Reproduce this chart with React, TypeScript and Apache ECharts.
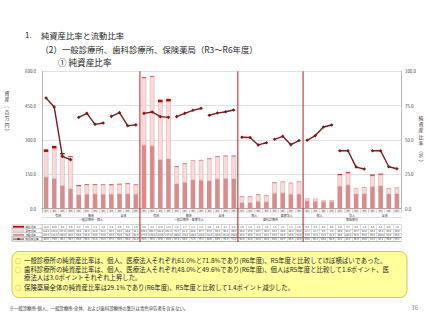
import React, { useEffect, useRef } from "react";
import * as echarts from "echarts";

// ---- data ----
const years = ["R3", "R4", "R5", "R6"];
const groupNames = ["有床", "無床", "全体", "有床", "無床", "全体", "個人", "医療法人", "個人", "法人", "全体"];
const sectionNames = ["一般診療所・個人", "一般診療所・医療法人", "歯科診療所", "保険薬局"];
const sectionGroupCounts = [3, 3, 2, 3];
const rowLabels = ["繰延資産", "固定資産", "流動資産", "純資産比率"];

// top (dark red) segment
const deferredAssets = [
  11.0, 10.6, 5.2, 3.0, 3.2, 2.6, 2.2, 1.8, 2.8, 2.6, 2.2, 1.8,
  2.8, 2.3, 11.0, 11.6, 1.8, 1.7, 1.2, 1.3, 1.8, 1.8, 2.1, 2.2,
  1.0, 1.0, 1.3, 1.0, 1.6, 1.2, 1.1, 1.0,
  0.3, 0.3, 0.4, 0.6, 3.6, 3.7, 0.3, 1.0, 4.6, 3.5, 0.6, 1.0,
];
// middle (light pink) segment
const fixedAssets = [
  110.4, 132.4, 137.8, 139.6, 38.8, 40.4, 41.8, 41.2, 40.2, 42.4, 44.8, 41.2,
  294.2, 303.7, 251.0, 251.4, 76.2, 81.3, 84.8, 87.7, 97.2, 99.2, 98.4, 99.3,
  28.0, 27.0, 29.7, 30.0, 46.4, 48.8, 48.9, 55.0,
  11.7, 11.7, 4.6, 4.4, 49.4, 52.3, 25.7, 28.0, 48.4, 49.5, 25.4, 25.0,
];
// bottom (rose) segment
const currentAssets = [
  137.6, 131.0, 100.0, 86.0, 60.0, 63.0, 64.0, 63.0, 63.0, 64.0, 64.0, 63.0,
  277.0, 274.0, 214.0, 217.0, 108.0, 115.0, 125.0, 124.0, 121.0, 129.0, 131.0, 130.0,
  26.0, 26.0, 32.0, 29.0, 67.0, 68.0, 63.0, 63.0,
  33.0, 32.0, 31.0, 31.0, 98.0, 103.0, 64.0, 66.0, 96.0, 100.0, 64.0, 66.0,
];
// 純資産比率 (%)
const netAssetRatio = [
  80.6, 74.0, 38.1, 35.7, 66.5, 69.4, 61.4, 62.4, 67.2, 69.9, 60.4, 61.0,
  69.4, 70.4, 67.0, 66.5, 67.0, 69.4, 71.6, 73.1, 68.0, 69.6, 70.6, 71.8,
  52.0, 51.8, 46.4, 48.0, 50.5, 52.7, 46.6, 49.6,
  49.8, 53.2, 59.5, 60.9, 42.2, 42.2, 30.3, 28.9, 42.2, 42.2, 30.5, 29.1,
];
const leftTicks = { min: 0, max: 600, interval: 150 };
const rightTicks = { min: 0, max: 100, interval: 25 };

const leftTitleChars = ["資", "産", "︵", "百", "万", "円", "︶"];
const rightTitleChars = ["純", "資", "産", "比", "率", "︵", "%", "︶"];

const bullets = [
  "一般診療所の純資産比率は、個人、医療法人それぞれ61.0%と71.8%であり(R6年度)、R5年度と比較してほぼ横ばいであった。",
  "歯科診療所の純資産比率は、個人、医療法人それぞれ48.0%と49.6%であり(R6年度)、個人はR5年度と比較して1.6ポイント、医",
  "療法人は3.0ポイントそれぞれ上昇した。",
  "保険薬局全体の純資産比率は29.1%であり(R6年度)、R5年度と比較して1.4ポイント減少した。",
];
const footnote = "※一般診療所-個人、一般診療所-全体、および歯科診療所の集計は青色申告者を含まない。";

const FONT = "'Noto Sans CJK JP', 'Noto Sans', sans-serif";
const C_BOTTOM = "#d88c8d";
const C_MID = "#f7dcdc";
const C_TOP = "#c00000";
const C_LINE = "#7a1c1c";
const C_SEP = "#c9302c";

export default function App() {
  const ref = useRef<HTMLDivElement>(null);
  useEffect(() => {
    if (!ref.current) return;
    const chart = echarts.init(ref.current, null, { renderer: "svg" });
    const categories = groupNames.flatMap(() => years);
    const n = categories.length;
    const boundaries: number[] = [0];
    sectionGroupCounts.forEach((c) => boundaries.push(boundaries[boundaries.length - 1] + c * years.length));
    const centers = sectionNames.map((_, i) => (boundaries[i] + boundaries[i + 1]) / 2);

    const rowData = [deferredAssets, fixedAssets, currentAssets, netAssetRatio];
    const rowOffsets = [16, 20.1, 24.2, 28.3];

    const tableAxes = rowData.map((arr, r) => ({
      type: "category",
      data: arr.map((v) => v.toFixed(1)),
      position: "bottom",
      offset: rowOffsets[r],
      gridIndex: 0,
      axisLine: { show: true, lineStyle: { color: r === 3 ? "#666" : "#aaa", width: r === 3 ? 0.8 : 0.5 } },
      axisTick: { show: true, interval: 0, length: 4.1, lineStyle: { color: "#bbb", width: 0.5 } },
      axisLabel: { interval: 0, fontSize: 2.5, margin: 0.9, color: "#333" },
    }));

    const lineSeries = groupNames.map((g, gi) => ({
      type: "line",
      name: g + gi,
      xAxisIndex: 0,
      yAxisIndex: 1,
      data: netAssetRatio.map((v, i) => (Math.floor(i / years.length) === gi ? v : null)),
      symbol: "diamond",
      symbolSize: 3.6,
      lineStyle: { color: C_LINE, width: 1.4 },
      itemStyle: { color: C_LINE },
      z: 5,
    }));

    const option: any = {
      animation: false,
      textStyle: { fontFamily: FONT },
      grid: { left: 42, right: 26, top: 71.3, bottom: 111.3, containLabel: false },
      xAxis: [
        {
          type: "category",
          data: categories,
          position: "bottom",
          axisLine: { show: true, lineStyle: { color: "#999", width: 0.8 } },
          axisTick: { show: true, interval: 0, length: 4.5, lineStyle: { color: "#bbb", width: 0.5 } },
          axisLabel: {
            interval: 0, fontSize: 2.6, margin: 1.0, color: "#333",
            borderColor: "#bbb", borderWidth: 0.4, padding: [0.3, 0.8],
          },
        },
        {
          type: "category",
          data: groupNames,
          position: "bottom",
          offset: 4.5,
          axisLine: { show: false },
          axisTick: { show: true, interval: 0, length: 4, lineStyle: { color: "#bbb", width: 0.5 } },
          axisLabel: { interval: 0, fontSize: 3, margin: 1.2, color: "#333" },
        },
        {
          type: "value",
          min: 0,
          max: n,
          interval: 1,
          position: "bottom",
          offset: 8.5,
          axisLine: { show: true, lineStyle: { color: "#bbb", width: 0.5 } },
          axisTick: { show: false },
          splitLine: { show: false },
          axisLabel: {
            fontSize: 3,
            margin: 1.3,
            color: "#333",
            showMinLabel: true,
            showMaxLabel: true,
            formatter: (v: number) => {
              const i = centers.indexOf(Math.round(v * 2) / 2);
              return i >= 0 ? sectionNames[i] : "";
            },
          },
        },
        ...tableAxes,
        {
          type: "category",
          data: categories,
          position: "bottom",
          offset: 32.4,
          axisLine: { show: true, lineStyle: { color: "#888", width: 0.6 } },
          axisTick: { show: false },
          axisLabel: { show: false },
        },
      ],
      yAxis: [
        {
          type: "value",
          ...leftTicks,
          position: "left",
          axisLine: { show: true, lineStyle: { color: "#a6a6a6", width: 0.8 } },
          axisTick: { show: false },
          axisLabel: { formatter: (v: number) => v.toFixed(1), fontSize: 4.4, color: "#404040", margin: 6 },
          splitLine: { show: true, lineStyle: { color: "#d9d9d9", width: 0.8 } },
        },
        {
          type: "value",
          ...rightTicks,
          position: "right",
          axisLine: { show: true, lineStyle: { color: "#a6a6a6", width: 0.8 } },
          axisTick: { show: false },
          axisLabel: { formatter: (v: number) => v.toFixed(1), fontSize: 4.4, color: "#404040", margin: 4 },
          splitLine: { show: false },
        },
      ],
      series: [
        {
          type: "bar", name: rowLabels[2], stack: "a", xAxisIndex: 0, yAxisIndex: 0,
          data: currentAssets, barWidth: 4.6, itemStyle: { color: C_BOTTOM },
        },
        {
          type: "bar", name: rowLabels[1], stack: "a", xAxisIndex: 0, yAxisIndex: 0,
          data: fixedAssets, barWidth: 4.6,
          itemStyle: { color: C_MID, borderColor: "#dca0a0", borderWidth: 0.5 },
        },
        {
          type: "bar", name: rowLabels[0], stack: "a", xAxisIndex: 0, yAxisIndex: 0,
          data: deferredAssets, barWidth: 4.6, itemStyle: { color: C_TOP },
        },
        ...lineSeries,
      ],
    };
    chart.setOption(option);

    // section separators through chart and table
    const gridTop = 71.3;
    const tableBottom = 208.7 + 32.4 + 1;
    const seps = boundaries.slice(1, -1).map((b) => {
      const x = chart.convertToPixel({ xAxisIndex: 2 } as any, b) as number;
      return {
        type: "line",
        shape: { x1: x, y1: gridTop, x2: x, y2: tableBottom },
        style: { stroke: C_SEP, lineWidth: 1.1 },
        z: 20,
      };
    });

    // table label column
    const rowTop = (r: number) => 208.7 + rowOffsets[r];
    const labelCells: any[] = [];
    rowLabels.forEach((lab, r) => {
      const y0 = rowTop(r);
      labelCells.push({
        type: "rect",
        shape: { x: 12, y: y0, width: 30, height: 4.1 },
        style: { fill: "#fff", stroke: r === 3 ? "#666" : "#aaa", lineWidth: 0.5 },
      });
      const cy = y0 + 2.05;
      if (r === 0) {
        labelCells.push({ type: "rect", shape: { x: 13, y: cy - 0.9, width: 11, height: 1.8 }, style: { fill: C_TOP } });
      } else if (r === 1) {
        labelCells.push({ type: "rect", shape: { x: 13, y: cy - 0.9, width: 11, height: 1.8 }, style: { fill: C_MID, stroke: "#dca0a0", lineWidth: 0.4 } });
      } else if (r === 2) {
        labelCells.push({ type: "rect", shape: { x: 13, y: cy - 0.9, width: 11, height: 1.8 }, style: { fill: C_BOTTOM } });
      } else {
        labelCells.push({ type: "line", shape: { x1: 13, y1: cy, x2: 24, y2: cy }, style: { stroke: C_LINE, lineWidth: 1 } });
        labelCells.push({ type: "rect", shape: { x: 17.5, y: cy - 1, width: 2, height: 2 }, style: { fill: C_LINE } });
      }
      labelCells.push({
        type: "text",
        style: { x: 25.5, y: cy, text: lab, fontSize: 2.6, fill: "#333", verticalAlign: "middle", fontFamily: FONT },
      });
    });

    const texts: any[] = [
      { type: "text", style: { x: 25, y: 34.5, text: "1.", fontSize: 8, fill: "#262626", verticalAlign: "middle", fontFamily: FONT } },
      { type: "text", style: { x: 41, y: 34.5, text: "純資産比率と流動比率", fontSize: 8.3, fill: "#262626", verticalAlign: "middle", fontFamily: FONT } },
      { type: "text", style: { x: 40.5, y: 49, text: "（2）一般診療所、歯科診療所、保険薬局（R3～R6年度）", fontSize: 8.4, fill: "#262626", verticalAlign: "middle", fontFamily: FONT } },
      { type: "text", style: { x: 58, y: 62, text: "① 純資産比率", fontSize: 8.6, fill: "#262626", verticalAlign: "middle", fontFamily: FONT } },
      {
        type: "rect",
        shape: { x: 12, y: 251.5, width: 395, height: 46, r: 7 },
        style: { fill: "#ffff9e", stroke: "#e2bf4e", lineWidth: 1 },
      },
    ];
    leftTitleChars.forEach((ch, i) => {
      texts.push({
        type: "text",
        style: { x: 7, y: 92 + i * 6.4, text: ch, fontSize: 4.9, fill: "#333", align: "center", verticalAlign: "middle", fontFamily: FONT },
      });
    });
    rightTitleChars.forEach((ch, i) => {
      texts.push({
        type: "text",
        x: 421,
        y: 117 + i * 6.4,
        rotation: ch === "%" ? -Math.PI / 2 : 0,
        style: { x: 0, y: 0, text: ch, fontSize: 4.9, fill: "#333", align: "center", verticalAlign: "middle", fontFamily: FONT },
      });
    });
    const bulletY = [260, 269.2, 277.7, 287.3];
    bullets.forEach((b, i) => {
      if (i !== 2) {
        texts.push({ type: "text", style: { x: 15, y: bulletY[i], text: "○", fontSize: 6.2, fill: "#c59b1c", verticalAlign: "middle", fontFamily: FONT } });
      }
      texts.push({ type: "text", style: { x: 24, y: bulletY[i], text: b, fontSize: 6.4, fill: "#262626", verticalAlign: "middle", fontFamily: FONT } });
    });
    texts.push({ type: "text", style: { x: 9.5, y: 307.5, text: footnote, fontSize: 4.4, fill: "#333", verticalAlign: "middle", fontFamily: FONT } });
    texts.push({ type: "text", style: { x: 418, y: 307.5, text: "36", fontSize: 6, fill: "#888", align: "right", verticalAlign: "middle", fontFamily: FONT } });

    chart.setOption({ graphic: [...texts, ...labelCells, ...seps] });
    return () => chart.dispose();
  }, []);
  return (
    <div
      ref={ref}
      style={{ position: "absolute", left: 0, top: 0, width: 427, height: 320, background: "#fff" }}
    />
  );
}
